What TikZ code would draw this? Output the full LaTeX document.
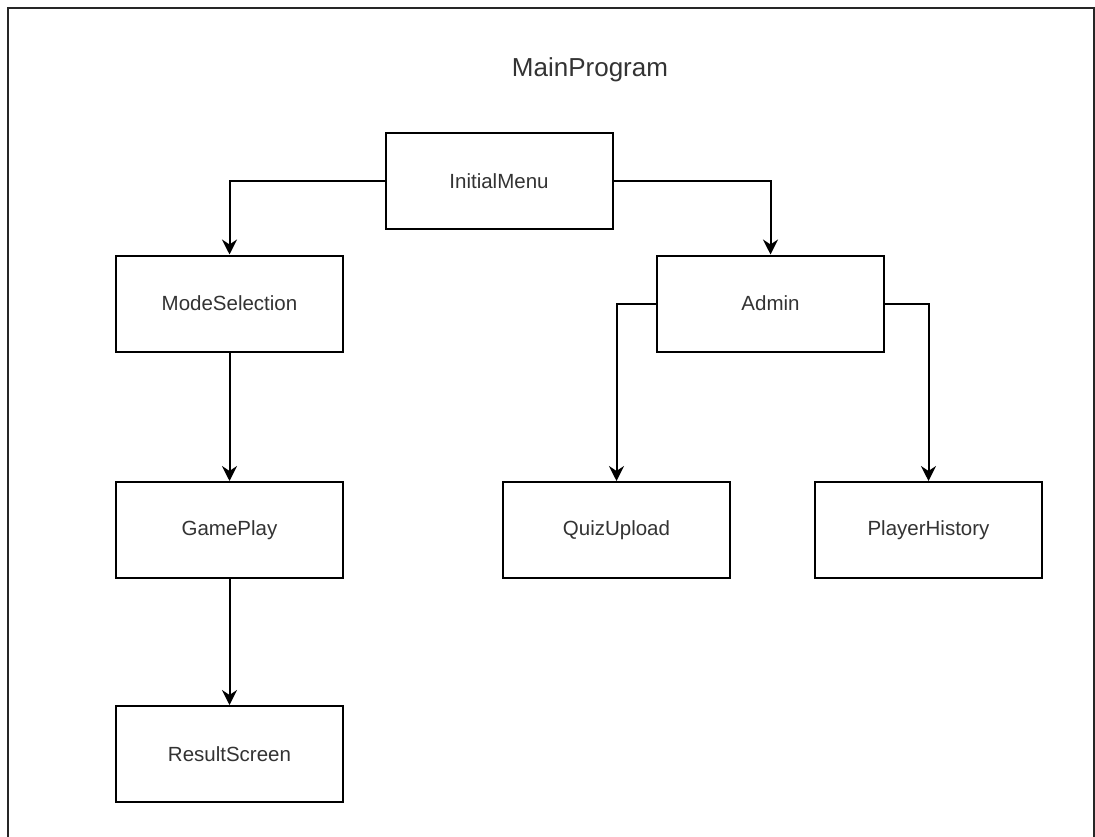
\documentclass[tikz,border=0pt]{standalone}
\usepackage{fontspec}
\setmainfont{Liberation Sans}
\usepackage{tikz}
\usetikzlibrary{calc,arrows.meta}
\newcommand{\wn}{227pt}
\newcommand{\hn}{96pt}
\tikzstyle{box}=[rectangle, line width=2pt, minimum width=\wn, minimum height=\hn, draw=black, fill=white, inner sep=0pt, text=black!80, font=\fontsize{20.5}{24}\selectfont]
\tikzstyle{link}=[line width=2pt, -{Stealth[length=15pt, width=15pt, inset=5pt]}]
\begin{document}
\begin{tikzpicture}[x=1pt, y=-1pt]
        \useasboundingbox (0,0) rectangle (1095,837);
        % frame, open at the bottom
        \draw[line width=2.5pt, black!85] (8,837) -- (8,8) -- (1094,8) -- (1094,837);
        \node[text=black!80, font=\fontsize{26}{30}\selectfont] (Main) at (590,70) {MainProgram};

        \node[box] (Init) at (499,181) {InitialMenu};
        \node[box] (Mode) at (229.5,303.5) {ModeSelection};
        \node[box] (Admin) at (770.5,303.5) {Admin};
        \node[box] (Game) at (229.5,530) {GamePlay};
        \node[box] (Result) at (229.5,754) {ResultScreen};
        \node[box] (Quiz) at (616.5,530) {QuizUpload};
        \node[box] (Hist) at (928.5,530) {PlayerHistory};

        \draw[link] (Init.west) -| (Mode.north);
        \draw[link] (Init.east) -| (Admin.north);
        \draw[link] (Mode.south) -- (Game.north);
        \draw[link] (Game.south) -- (Result.north);
        \draw[link] (Admin.west) -| (Quiz.north);
        \draw[link] (Admin.east) -| (Hist.north);
\end{tikzpicture}
\end{document}
